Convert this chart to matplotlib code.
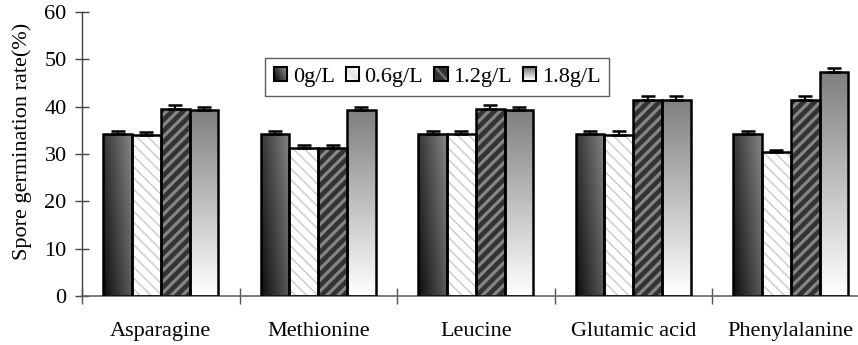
import os
import numpy as np
import matplotlib
matplotlib.use("Agg")
import matplotlib.pyplot as plt
from matplotlib import font_manager as fm
from matplotlib.patches import Rectangle
from matplotlib.image import BboxImage
from matplotlib.transforms import Bbox

_p = '/usr/share/fonts/truetype/liberation/LiberationSerif-Regular.ttf'
if os.path.exists(_p):
    try:
        fm.fontManager.addfont(_p)
    except Exception:
        pass
plt.rcParams['font.family'] = ['Liberation Serif', 'DejaVu Serif']

categories = ["Asparagine", "Methionine", "Leucine", "Glutamic acid", "Phenylalanine"]
series_names = ["0g/L", "0.6g/L", "1.2g/L", "1.8g/L"]
v_0 = [34.2, 34.2, 34.2, 34.2, 34.2]
v_06 = [34.0, 31.3, 34.2, 34.1, 30.5]
v_12 = [39.5, 31.3, 39.6, 41.4, 41.4]
v_18 = [39.2, 39.2, 39.2, 41.4, 47.3]
e_0 = [0.6, 0.6, 0.6, 0.6, 0.6]
e_06 = [0.7, 0.7, 0.6, 0.7, 0.4]
e_12 = [0.8, 0.7, 0.8, 0.85, 0.85]
e_18 = [0.8, 0.8, 0.8, 0.9, 0.9]
yticks = [0, 10, 20, 30, 40, 50, 60]

values = [v_0, v_06, v_12, v_18]
errors = [e_0, e_06, e_12, e_18]

W, H = 858, 345
fig = plt.figure(figsize=(W / 100, H / 100), dpi=100)
ax = fig.add_axes([82 / W, 49 / H, 787.5 / W, 284 / H])
ax.set_xlim(0, len(categories))
ax.set_ylim(0, 60)

n = 64
yy, xx = np.mgrid[0:1:n * 1j, 0:1:n * 1j]
grad0 = 0.05 + 0.47 * (0.65 * xx + 0.35 * yy)  # row 0 = bottom (origin lower)
grad18 = 1.0 - 0.50 * yy

bw = 0.183
for j, (vals, errs) in enumerate(zip(values, errors)):
    for i, (v, e) in enumerate(zip(vals, errs)):
        x0 = i + 0.5 + (j - 2) * bw
        if j == 0 or j == 3:
            g = grad0 if j == 0 else grad18
            im = ax.imshow(g, cmap='gray', vmin=0, vmax=1, origin='lower',
                           extent=[x0, x0 + bw, 0, v], aspect='auto',
                           interpolation='bilinear', zorder=2)
            clip = Rectangle((x0, 0), bw, v, transform=ax.transData)
            im.set_clip_path(clip)
        elif j == 1:
            plt.rcParams['hatch.linewidth'] = 1.1
            r = Rectangle((x0, 0), bw, v, facecolor='white', edgecolor='#cdcdcd',
                          hatch='\\\\\\', linewidth=0, zorder=2)
            ax.add_patch(r)
        else:
            plt.rcParams['hatch.linewidth'] = 2.3
            r = Rectangle((x0, 0), bw, v, facecolor='#333333', edgecolor='#858585',
                          hatch='///', linewidth=0, zorder=2)
            ax.add_patch(r)
        ax.add_patch(Rectangle((x0, 0), bw, v, facecolor='none',
                               edgecolor='black', linewidth=1.8, zorder=3))
        ax.errorbar([x0 + bw / 2], [v], yerr=[[0], [e]], fmt='none',
                    ecolor='black', elinewidth=1.5, capsize=5, capthick=1.8, zorder=4)

for s in ['top', 'right']:
    ax.spines[s].set_visible(False)
ax.spines['left'].set_color('#444444')
ax.spines['bottom'].set_color('#666666')
ax.spines['left'].set_linewidth(1.0)
ax.spines['bottom'].set_linewidth(1.2)

ax.set_yticks(yticks)
ax.tick_params(axis='y', direction='inout', length=10, width=1.0, color='#444444',
               labelsize=16, pad=6)
ax.set_xticks(np.arange(0, len(categories) + 1))
ax.set_xticklabels([])
ax.tick_params(axis='x', which='major', direction='inout', length=11, width=1.0,
               color='#555555')
ax.set_xticks(np.arange(len(categories)) + 0.5, minor=True)
ax.set_xticklabels(categories, minor=True)
ax.tick_params(axis='x', which='minor', length=0, labelsize=16, pad=19)

fig.text(22 / W, 1 - 141.5 / H, "Spore germination rate(%)", rotation=90,
         ha='center', va='center', fontsize=16)

proxies = [
    Rectangle((0, 0), 1, 1, facecolor='#303030', edgecolor='black', linewidth=1.5),
    Rectangle((0, 0), 1, 1, facecolor='white', edgecolor='black', linewidth=1.5),
    Rectangle((0, 0), 1, 1, facecolor='#333333', edgecolor='black', linewidth=1.5),
    Rectangle((0, 0), 1, 1, facecolor='#b0b0b0', edgecolor='black', linewidth=1.5),
]
leg = ax.legend(proxies, series_names, ncol=4, loc='center',
                bbox_to_anchor=(0.451, 0.771), fontsize=16, frameon=True,
                fancybox=False, edgecolor='#333333', handlelength=0.6,
                handleheight=0.6, handletextpad=0.25, columnspacing=0.5,
                borderpad=0.4, borderaxespad=0)
leg.get_frame().set_linewidth(1.0)
leg.set_zorder(6)

fig.canvas.draw()
renderer = fig.canvas.get_renderer()
n2 = 32
yy2, xx2 = np.mgrid[0:1:n2 * 1j, 0:1:n2 * 1j]
leg_12 = 0.2 + 0.3 * np.exp(-((xx2 + yy2 - 1.0) ** 2) / 0.02)
leg_06 = 1.0 - 0.12 * (1 - np.abs(xx2 + yy2 - 1))
legimgs = [grad0, leg_06, leg_12, grad18]
for h, g in zip(leg.legend_handles, legimgs):
    bb = h.get_window_extent(renderer)
    shrink = 1.5
    bbox = Bbox.from_extents(bb.x0 + shrink, bb.y0 + shrink, bb.x1 - shrink, bb.y1 - shrink)
    bi = BboxImage(bbox, cmap='gray', norm=plt.Normalize(0, 1), origin='lower',
                   interpolation='bilinear')
    bi.set_data(g)
    bi.set_zorder(10)
    fig.add_artist(bi)

fig.savefig("out.png", dpi=100)
